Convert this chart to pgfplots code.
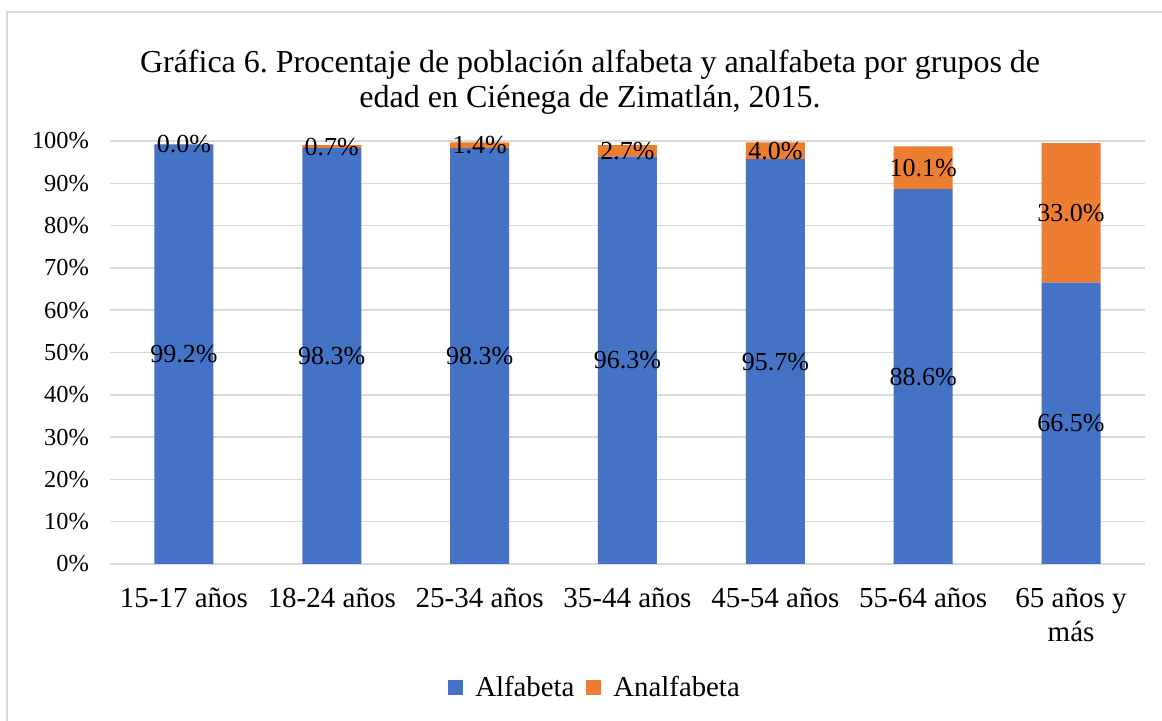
\documentclass[border=0pt]{standalone}
\usepackage{pgfplots}
\pgfplotsset{compat=1.18}
\usepackage{fontspec}
\setmainfont{Liberation Serif}
\frenchspacing
\definecolor{cblue}{HTML}{4472C4}
\definecolor{corange}{HTML}{ED7D31}
\definecolor{cgrid}{HTML}{D9D9D9}
\begin{document}
\begin{tikzpicture}
\useasboundingbox (0,0) rectangle (581pt,360.5pt);
\draw[cgrid, line width=1pt] (3.5pt,-10pt) rectangle (600pt,354.5pt);
\begin{axis}[
  at={(55pt,78.5pt)}, anchor=south west,
  scale only axis, width=517.5pt, height=211.5pt,
  ybar stacked, bar width=29.5pt,
  xmin=-0.5, xmax=6.5, ymin=0, ymax=100,
  xtick={0,1,2,3,4,5,6},
  xticklabels={15-17 años,18-24 años,25-34 años,35-44 años,45-54 años,55-64 años,{65 años y\\más}},
  xticklabel style={align=center, font=\fontsize{14.5}{17}\selectfont, yshift=-8.5pt},
  ytick={0,10,...,100},
  yticklabel={\pgfmathprintnumber{\tick}\%},
  yticklabel style={font=\fontsize{12.2}{14}\selectfont, xshift=-7pt},
  /pgf/number format/assume math mode=true,
  ymajorgrids, major grid style={cgrid, line width=0.75pt},
  axis line style={draw=none}, major tick length=0pt,
  title={Gráfica 6. Procentaje de población alfabeta y analfabeta por grupos de\\edad en Ciénega de Zimatlán, 2015.},
  title style={align=center, font=\fontsize{16}{17.3}\selectfont, at={(0.4638,1.111)}, anchor=center},
  legend columns=2,
  legend style={draw=none, at={(0.4696,-0.293)}, anchor=center, font=\fontsize{14.4}{16}\selectfont, column sep=4pt},
  legend image code/.code={\fill[#1] (0pt,-3.75pt) rectangle (7.5pt,3.75pt);},
  visualization depends on=rawy\as\rawy,
  nodes near coords={\pgfmathprintnumber[fixed,fixed zerofill,precision=1]{\rawy}\%},
  every node near coord/.append style={anchor=center, font=\fontsize{13}{14}\selectfont, text=black},
]
\addplot[fill=cblue, draw=none] coordinates {(0,99.2) (1,98.3) (2,98.3) (3,96.3) (4,95.7) (5,88.6) (6,66.5)};
\addplot[fill=corange, draw=none] coordinates {(0,0.0001) (1,0.7) (2,1.4) (3,2.7) (4,4.0) (5,10.1) (6,33.0)};
\legend{Alfabeta,Analfabeta}
\end{axis}
\end{tikzpicture}
\end{document}
